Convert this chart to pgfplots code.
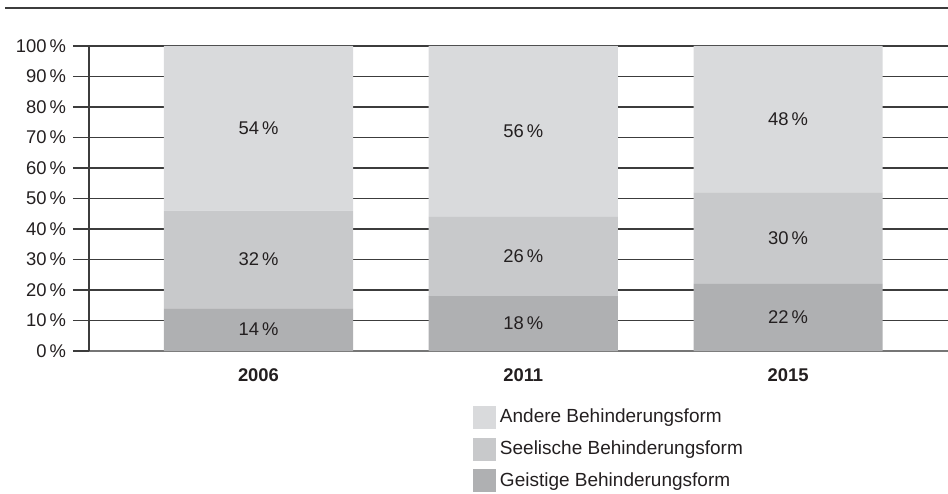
\documentclass[border=0pt]{standalone}
\usepackage{pgfplots}
\pgfplotsset{compat=1.18}
\usepackage{fontspec}
\setmainfont{Liberation Sans}
\definecolor{cTop}{HTML}{D9DADC}
\definecolor{cMid}{HTML}{C8C9CB}
\definecolor{cBot}{HTML}{AFB0B2}
\definecolor{cTxt}{HTML}{231F20}
\definecolor{cGrid}{HTML}{3C3C3C}
\begin{document}
\begin{tikzpicture}
\useasboundingbox (0,0) rectangle (474pt,246.5pt);
\draw[cGrid, line width=0.7pt] (2.5pt,242.5pt) -- (474pt,242.5pt);
\begin{axis}[
  at={(44.5pt,71pt)}, anchor=south west,
  scale only axis, width=429.5pt, height=152.5pt,
  font=\fontsize{9.2}{11}\selectfont,
  /pgf/number format/assume math mode=true,
  ybar stacked, bar width=0.714,
  xmin=-0.640, xmax=2.604, ymin=0, ymax=100,
  xtick={0,1,2}, xticklabels={2006,2011,2015},
  xticklabel style={font=\fontsize{9.2}{11}\selectfont\bfseries, text=cTxt, yshift=2.5pt},
  ytick={0,10,...,100},
  yticklabel={\pgfmathprintnumber{\tick}\,\%},
  yticklabel style={text=cTxt},
  axis x line*=bottom, axis y line*=left,
  axis line style={cGrid, line width=0.7pt, -},
  x axis line style={draw=cGrid!70},
  ymajorgrids, grid style={cGrid, line width=0.6pt},
  tick align=outside, major tick length=8pt,
  xtick style={draw=none},
  ytick style={cGrid, line width=0.6pt},
  visualization depends on=rawy\as\rawy,
  nodes near coords={\pgfmathprintnumber{\rawy}\,\%},
  every node near coord/.append style={anchor=center, text=cTxt, font=\fontsize{9.2}{11}\selectfont},
  reverse legend,
  legend cell align=left,
  legend style={at={(0.447,-0.177)}, anchor=north west, draw=none, fill=none,
    inner sep=0pt, outer sep=0pt, row sep=3.5pt,
    font=\fontsize{9.5}{11}\selectfont, text=cTxt,
    /tikz/every even column/.append style={column sep=3.5pt}},
  legend image code/.code={\fill[#1] (0pt,-5.75pt) rectangle (11.5pt,5.75pt);},
]
\addplot[fill=cBot, draw=none] coordinates {(0,14) (1,18) (2,22)};
\addplot[fill=cMid, draw=none] coordinates {(0,32) (1,26) (2,30)};
\addplot[fill=cTop, draw=none] coordinates {(0,54) (1,56) (2,48)};
\legend{Geistige Behinderungsform, Seelische Behinderungsform, Andere Behinderungsform}
\end{axis}
\end{tikzpicture}
\end{document}
